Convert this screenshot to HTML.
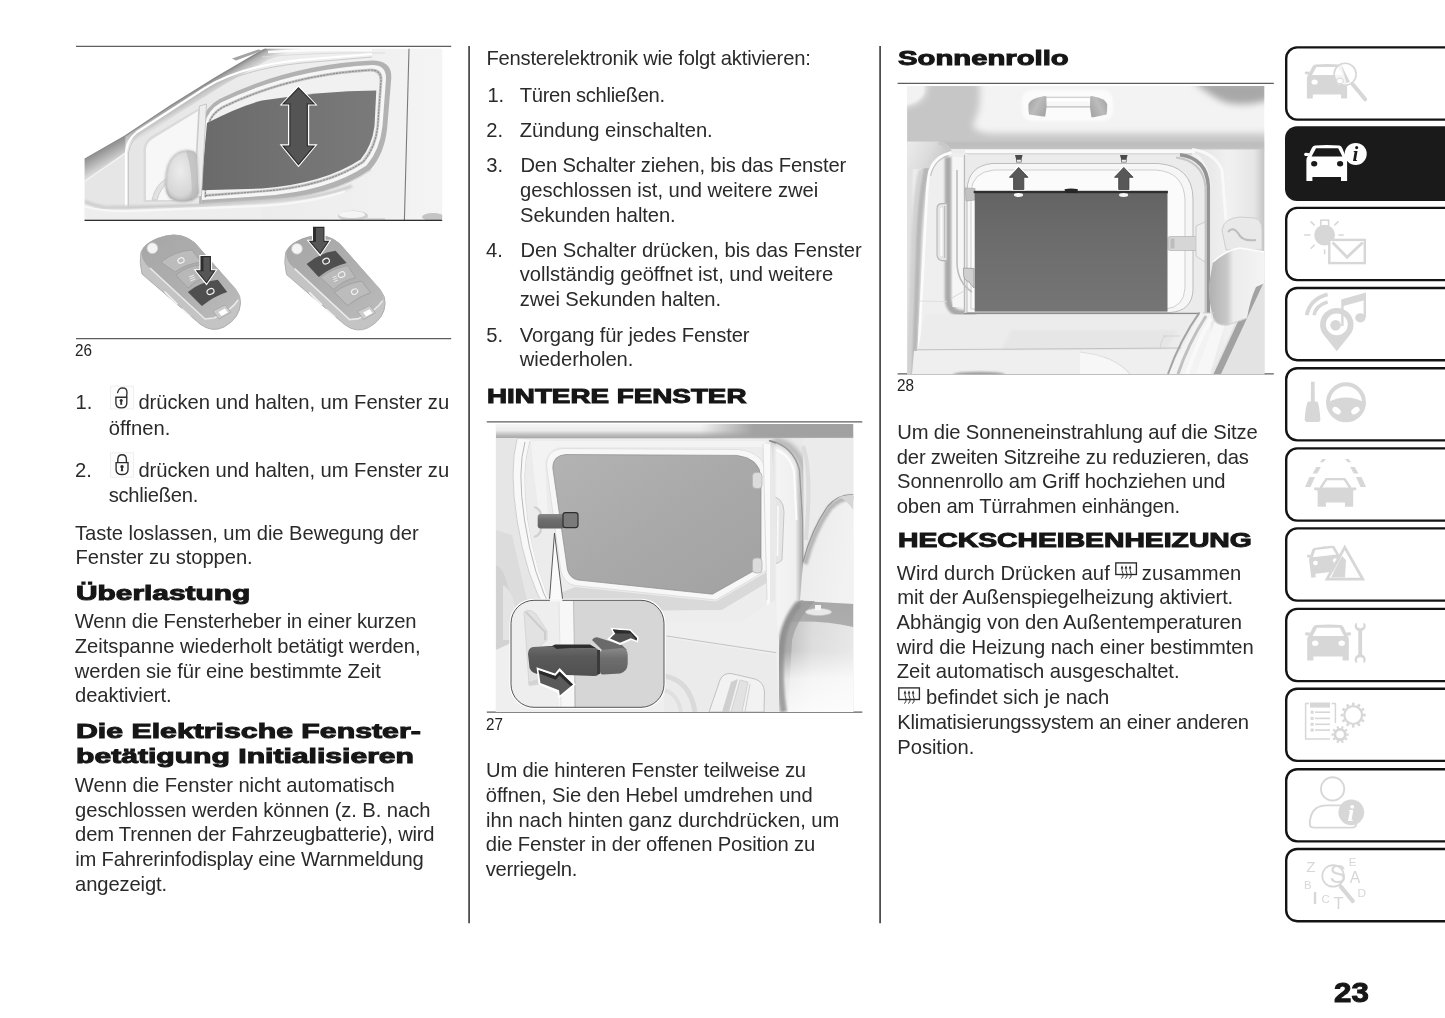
<!DOCTYPE html>
<html lang="de"><head><meta charset="utf-8"><title>Seite 23</title>
<style>
html,body{margin:0;padding:0;background:#fff;}
body{width:1445px;height:1018px;overflow:hidden;font-family:"Liberation Sans",sans-serif;}
#page{filter:grayscale(1);position:relative;width:1445px;height:1018px;background:#fff;overflow:hidden;}
.t{position:absolute;white-space:pre;line-height:1;margin:0;padding:0;}
.b{color:#2a2a2a;line-height:normal;font-size:20.2px;}
.c{color:#222;font-size:16.5px;line-height:normal;transform-origin:left center;}
.h{color:#161616;font-weight:bold;line-height:normal;transform-origin:left center;-webkit-text-stroke:1px #161616;}
.fig{position:absolute;}

</style></head>
<body>
<div id="page">
<svg class="fig" style="left:0;top:0" width="1445" height="1018" viewBox="0 0 1445 1018">
<g stroke="#5e5e5e" stroke-width="1.25" fill="none">
  <path d="M76,46.4 H451.2"/>
  <path d="M76,338.5 H451.2"/>
  <path d="M486.8,421.8 H862.3"/>
  <path d="M486.8,712.1 H862.3"/>
  <path d="M897.6,83.3 H1273.8"/>
  <path d="M897.6,373.8 H1273.8"/>
</g>
<g stroke="#4e4e4e" stroke-width="1.8" fill="none">
  <path d="M469.1,46 V923.2"/>
  <path d="M880.1,46 V923.2"/>
</g>
</svg>

<svg class="fig" style="left:76px;top:47px" width="376" height="292" viewBox="76 47 376 292">
<defs>
  <clipPath id="c26"><rect x="84.5" y="48.6" width="357.7" height="171.7"/></clipPath>
  <linearGradient id="g26roof" x1="0" y1="0" x2="0.35" y2="1">
    <stop offset="0" stop-color="#8a8a8a"/><stop offset="0.45" stop-color="#cfcfcf"/><stop offset="1" stop-color="#ededed"/>
  </linearGradient>
  <linearGradient id="g26glass" x1="0" y1="0" x2="1" y2="0">
    <stop offset="0" stop-color="#6a6a6a"/><stop offset="0.6" stop-color="#747474"/><stop offset="1" stop-color="#7a7a7a"/>
  </linearGradient>
  <linearGradient id="g26body" x1="0" y1="0" x2="1" y2="0">
    <stop offset="0" stop-color="#e3e3e3"/><stop offset="0.5" stop-color="#ececec"/><stop offset="1" stop-color="#f3f3f3"/>
  </linearGradient>
  <radialGradient id="g26mir" cx="0.45" cy="0.4" r="0.7">
    <stop offset="0" stop-color="#ececec"/><stop offset="0.7" stop-color="#d6d6d6"/><stop offset="1" stop-color="#a8a8a8"/>
  </radialGradient>
  <linearGradient id="g26key" x1="0" y1="0" x2="1" y2="1">
    <stop offset="0" stop-color="#a6a6a6"/><stop offset="0.6" stop-color="#b0b0b0"/><stop offset="1" stop-color="#bcbcbc"/>
  </linearGradient>
  <linearGradient id="g26roofp" gradientUnits="userSpaceOnUse" x1="170" y1="105" x2="178.2" y2="118.8">
    <stop offset="0" stop-color="#8e8e8e"/><stop offset="0.25" stop-color="#b4b4b4"/><stop offset="0.7" stop-color="#dcdcdc"/><stop offset="1" stop-color="#ececec"/>
  </linearGradient>
  <linearGradient id="g26fend" gradientUnits="userSpaceOnUse" x1="100" y1="150" x2="109" y2="166">
    <stop offset="0" stop-color="#8e8e8e"/><stop offset="0.5" stop-color="#b5b5b5"/><stop offset="1" stop-color="#dedede"/>
  </linearGradient>
  <filter id="b1" x="-20%" y="-20%" width="140%" height="140%"><feGaussianBlur stdDeviation="0.8"/></filter>
  <filter id="b2" x="-20%" y="-20%" width="140%" height="140%"><feGaussianBlur stdDeviation="2"/></filter>
  <filter id="b4" x="-30%" y="-30%" width="160%" height="160%"><feGaussianBlur stdDeviation="4"/></filter>
</defs>
<g clip-path="url(#c26)">
  <!-- sky -->
  <rect x="84" y="48" width="360" height="173" fill="#fff"/>
  <!-- car body below roof diagonal -->
  <path d="M84.5,159.4 L125.4,135.8 L170.8,105.5 L216.2,77.2 L261.6,50.8 L266,48.6 L442.2,48.6 L442.2,220.3 L84.5,220.3 Z" fill="url(#g26body)"/>
  <!-- roof/A-pillar shaded band (gradient perpendicular to roof line) -->
  <path d="M84.5,159.4 L125.4,135.8 L170.8,105.5 L216.2,77.2 L261.6,50.8 L266,48.6 L300,48.6 L268,60 L222,86 L176,115 L131,146 L84.5,178 Z" fill="url(#g26roofp)"/>
  <path d="M84.5,159.4 L125.4,135.8 L170.8,105.5 L216.2,77.2 L261.6,50.8 L266,48.6" fill="none" stroke="#8a8a8a" stroke-width="1.3"/>
  <!-- roof rail detail -->
  <path d="M232,58.5 L258,49.5 L263,50.3 L236,60.5Z" fill="#a4a4a4"/>
  <path d="M268,52 Q320,49 372,50" fill="none" stroke="#fbfbfb" stroke-width="2.5"/>
  <path d="M262,57 Q320,52 385,53" fill="none" stroke="#dcdcdc" stroke-width="1"/>
  <!-- fender lower-left -->
  <path d="M84.5,178 L125,151 L126,206 L84.5,203 Z" fill="#e6e6e6"/>
  <path d="M84.5,159.4 L125.4,135.8 L125.4,152 L84.5,181 Z" fill="url(#g26fend)"/>
  <path d="M84.5,181.5 L125,153.5" fill="none" stroke="#f4f4f4" stroke-width="1.2"/>
  <!-- door frame lines -->
  <path d="M126,207 L126,152 Q127,140 137,132 L205,88 Q240,66 300,60 L372,54" fill="none" stroke="#fff" stroke-width="2.2"/>
  <path d="M128.5,207 L128.5,153 Q130,142 139,134.5 L207,91 Q242,69 302,63 L372,57" fill="none" stroke="#c9c9c9" stroke-width="1"/>
  <!-- window frame outer shadow -->
  <path d="M199,206.5 L202,122.5 Q205,107 219.5,99 Q290,64.5 372,60.6 Q392,60.6 391.3,78 L387.2,127.5 Q384.8,153 370.5,169.5 Q331,197 262,201 Z" fill="#b2b2b2"/>
  <path d="M201.5,203 L205,123 Q208,110 221,102.5 Q290,69.5 372,65 Q386.5,65 386,79 L382.5,126 Q380,150 366.5,165.5 Q328,191.5 262,196 L202,200 Z" fill="#f6f6f6"/>
  <path d="M204,199 L207.5,124 Q210,113 222,106 Q290,73 371,68.5 Q383,68.5 382.5,80 L379,126 Q377,148 364,163 Q326,188 262,192.5 L204,197 Z" fill="#c4c4c4"/>
  <path d="M205.4,197.4 L208.8,124.3 Q211.2,114.2 222.6,107.4 Q290,74.6 370.8,70 Q381.4,70 381,80.4 L377.7,126 Q375.6,147.4 363,162 Q325.6,186.6 262,191.3 L205.4,195.6" fill="none" stroke="#8a8a8a" stroke-width="1.1" stroke-dasharray="2.2 1"/>
  <!-- clear open band (window lowered) -->
  <path d="M206,196 L209.5,124.5 Q212,115 223,108.5 Q290,76 370.5,71.5 Q380,71.5 379.5,81 L376.5,126 Q374,146.5 362,161 Q325,185 262,190 L206,194 Z" fill="#f1f1f1"/>
  <!-- dark glass -->
  <path d="M200.8,190.3 L207,123 Q240,106 262,100.5 Q320,91 376.3,90.4 L374.5,126 Q372,146 360.5,159.5 Q324,183.5 262,188.5 Z" fill="url(#g26glass)"/>
  <!-- quarter window -->
  <path d="M143.5,202 L143.5,148 Q145,140 152,136 L200,107.5 L196.5,164 L193,201.5 Z" fill="#dadada"/>
  <path d="M146,200 L146,148.5 Q147,142 153.5,138.2 L198,111 L195,164 L191.5,200 Z" fill="#f7f7f7"/>
  <!-- divider pillar -->
  <path d="M199.5,106 L206.5,104 L201.5,196 L194.5,198 Z" fill="#ededed" stroke="#bfbfbf" stroke-width="0.8"/>
  <!-- mirror stalk -->
  <path d="M152,200 Q155,185 167,178 L170,181 Q160,188 157,200 Z" fill="#e2e2e2" stroke="#c8c8c8" stroke-width="0.8"/>
  <!-- mirror -->
  <path d="M165.6,186 Q164.5,160 178,152.5 Q186,149 193.5,151.5 Q196.5,153 197,160 L198.5,193 Q197,200 186,201.3 Q176,202 170,198 Q166,194 165.6,186 Z" fill="url(#g26mir)"/>
  <path d="M165.6,186 Q164.5,160 178,152.5 Q186,149 193.5,151.5 Q196.5,153 197,160 L198.5,193 Q197,200 186,201.3 Q176,202 170,198 Q166,194 165.6,186 Z" fill="none" stroke="#9d9d9d" stroke-width="0.9" filter="url(#b1)"/>
  <path d="M186,150.6 Q193,172 191.6,200.4 Q197,199 198.4,193 L197,160 Q196.5,153 193.5,151.5 Q190,150.2 186,150.6 Z" fill="#bdbdbd" opacity="0.75"/>
  <!-- sill / lower body -->
  <path d="M84.5,204 L126,208 L200,205 L262,201.5 L262,220.3 L84.5,220.3 Z" fill="#eeeeee"/>
  <path d="M126,207.8 L200,204.6 L262,200.6 Q332,197 371,170" fill="none" stroke="#cfcfcf" stroke-width="1"/>
  <path d="M84.5,201.4 Q96,206.4 106,207.8 L200,205.4 L262,201.6 Q320,198.6 352,186" fill="none" stroke="#cdcdcd" stroke-width="3.4" filter="url(#b1)"/>
  <path d="M84.5,206.5 Q100,211.2 126,211.2 L262,205.8 Q310,203 345,191.4" fill="none" stroke="#f7f7f7" stroke-width="2.2"/>
  <!-- door seam right -->
  <path d="M409,48.6 L404.4,220.3" stroke="#7a7a7a" stroke-width="1.1" fill="none"/>
  <rect x="410" y="48.6" width="33" height="172" fill="#f4f4f4" opacity="0.7"/>
  <!-- handles -->
  <ellipse cx="353" cy="216" rx="15" ry="5.5" fill="#d0d0d0"/>
  <ellipse cx="352" cy="214.5" rx="13" ry="3.6" fill="#f5f5f5"/>
  <path d="M366,218 L385,218 L385,220.3 L366,220.3Z" fill="#d9d9d9"/>
  <ellipse cx="433" cy="217" rx="11" ry="4" fill="#c4c4c4"/>
  <!-- double arrow -->
  <path d="M298.5,85.2 L317.6,105.6 L309.2,105.6 L309.2,144.2 L317.6,144.2 L298.5,167.3 L279.6,144.2 L288,144.2 L288,105.6 L279.6,105.6 Z" fill="#fff"/>
  <path d="M298.5,87.8 L314,103.8 L307.3,103.8 L307.3,146 L314,146 L298.5,164.6 L283.2,146 L289.9,146 L289.9,103.8 L283.2,103.8 Z" fill="#545454" stroke="#2c2c2c" stroke-width="1.2"/>
</g>
<!-- baseline under car -->
<rect x="84.5" y="219.7" width="357.7" height="1.3" fill="#2e2e2e"/>

<!-- ===== key 1 ===== -->
<g>
  <path d="M141,252 Q139,262 142,274 L200,324 Q212,333 224,327 Q240,318 240.5,303 Q241,296 236,290 L195,243 Q182,232 166,236 Q146,241 141,252 Z" fill="#c4c4c4" stroke="#b0b0b0" stroke-width="1"/>
  <path d="M142,250 Q147,240 166,235.5 Q182,232 195,243 L236,289 Q240,295 238,300 Q232,310 214,318 L205,319 L150,268 Q140,260 142,250 Z" fill="url(#g26key)"/>
  <path d="M150,268 L205,319 L214,318 Q232,310 238,300" fill="none" stroke="#e9e9e9" stroke-width="1.6"/>
  <circle cx="152.4" cy="248.2" r="5.4" fill="#f4f4f4" stroke="#c9c9c9" stroke-width="0.8"/>
  <!-- upper button -->
  <path d="M161,262 Q175,251 192,250 L201,262 Q186,264 175,272 Z" fill="#bcbcbc" stroke="#9a9a9a" stroke-width="0.7"/>
  <!-- mid button -->
  <path d="M176,275 Q187,266 202,264.5 L210,276 Q197,279 188,288 Z" fill="#b8b8b8" stroke="#9a9a9a" stroke-width="0.7"/>
  <!-- pressed button -->
  <path d="M187.9,291.9 Q200,282 217.8,279.8 L227.2,291.9 Q214,296 201.9,306 Z" fill="#4f4f4f"/>
  <!-- key ring -->
  <path d="M213,311 L225,305 L231,312 L219,319 Z" fill="#cdcdcd" stroke="#a5a5a5" stroke-width="0.8"/>
  <path d="M218.5,312 L225,308.6 L228,312.4 L221.5,316 Z" fill="#fff"/>
  <!-- icons -->
  <ellipse cx="181" cy="260.5" rx="3.2" ry="2.6" fill="none" stroke="#f2f2f2" stroke-width="1.1" transform="rotate(-25 181 260.5)"/>
  <ellipse cx="210.5" cy="291.5" rx="3.6" ry="2.8" fill="none" stroke="#f2f2f2" stroke-width="1.2" transform="rotate(-25 210.5 291.5)"/>
  <path d="M189,277 l5,-2 M189.6,279 l5,-2 M190.4,281 l5,-2" stroke="#f0f0f0" stroke-width="0.9"/>
  <path d="M165,292 L177,304 M182,309 L190,316" stroke="#f3f3f3" stroke-width="1.6" stroke-linecap="round"/>
  <!-- arrow -->
  <path d="M199.4,255 L212,255 L212,269.2 L217.6,269.2 L206.6,285.4 L193.6,269.2 L199.4,269.2 Z" fill="#fff"/>
  <path d="M201,256.6 L210.4,256.6 L210.4,270.8 L214.6,270.8 L206.6,282.6 L196.8,270.8 L201,270.8 Z" fill="#565656" stroke="#2c2c2c" stroke-width="1.1"/>
  <path d="M201,256.6 L203.4,256.6 L203.4,271.4 L201,270.8 Z" fill="#2c2c2c"/>
</g>
<!-- ===== key 2 ===== -->
<g transform="translate(144.6,0.6)">
  <path d="M141,252 Q139,262 142,274 L200,324 Q212,333 224,327 Q240,318 240.5,303 Q241,296 236,290 L195,243 Q182,232 166,236 Q146,241 141,252 Z" fill="#c4c4c4" stroke="#b0b0b0" stroke-width="1"/>
  <path d="M142,250 Q147,240 166,235.5 Q182,232 195,243 L236,289 Q240,295 238,300 Q232,310 214,318 L205,319 L150,268 Q140,260 142,250 Z" fill="url(#g26key)"/>
  <path d="M150,268 L205,319 L214,318 Q232,310 238,300" fill="none" stroke="#e9e9e9" stroke-width="1.6"/>
  <circle cx="152.4" cy="248.2" r="5.4" fill="#f4f4f4" stroke="#c9c9c9" stroke-width="0.8"/>
  <!-- pressed upper button -->
  <path d="M162,263.3 Q176,252 190.9,250.2 L202.1,262.4 Q187,266 174.1,276.4 Z" fill="#4f4f4f"/>
  <path d="M176,277 Q187,268 203,265 L211,277 Q198,280 189,289 Z" fill="#bababa" stroke="#9a9a9a" stroke-width="0.7"/>
  <path d="M190,292 Q201,283 217,280.5 L226,292 Q214,296 203,305 Z" fill="#bcbcbc" stroke="#9a9a9a" stroke-width="0.7"/>
  <path d="M213,311 L225,305 L231,312 L219,319 Z" fill="#cdcdcd" stroke="#a5a5a5" stroke-width="0.8"/>
  <path d="M218.5,312 L225,308.6 L228,312.4 L221.5,316 Z" fill="#fff"/>
  <ellipse cx="181.5" cy="260.5" rx="3.4" ry="2.7" fill="none" stroke="#f2f2f2" stroke-width="1.2" transform="rotate(-25 181.5 260.5)"/>
  <ellipse cx="197" cy="274" rx="3.4" ry="2.7" fill="none" stroke="#f2f2f2" stroke-width="1.1" transform="rotate(-25 197 274)"/>
  <path d="M188,277 l4,-1.6 M188.6,279 l4,-1.6 M189.4,281 l4,-1.6" stroke="#f0f0f0" stroke-width="0.9"/>
  <ellipse cx="210" cy="291" rx="3.2" ry="2.6" fill="none" stroke="#f2f2f2" stroke-width="1.1" transform="rotate(-25 210 291)"/>
  <path d="M165,292 L177,304 M182,309 L190,316" stroke="#f3f3f3" stroke-width="1.6" stroke-linecap="round"/>
</g>
<g>
  <path d="M312,225.8 L325.5,225.8 L325.5,239.8 L331.4,239.8 L320.2,256.4 L306.6,239.8 L312,239.8 Z" fill="#fff"/>
  <path d="M313.6,227.4 L323.9,227.4 L323.9,241.4 L328.4,241.4 L320.2,253.6 L309.8,241.4 L313.6,241.4 Z" fill="#565656" stroke="#2c2c2c" stroke-width="1.1"/>
  <path d="M313.6,227.4 L316,227.4 L316,242 L313.6,241.4 Z" fill="#2c2c2c"/>
</g>
</svg>

<svg class="fig" style="left:487px;top:422px" width="376" height="291" viewBox="487 422 376 291">
<defs>
  <clipPath id="c27"><rect x="495.8" y="423.9" width="357.6" height="288.2"/></clipPath>
  <linearGradient id="g27top" x1="0" y1="0" x2="0" y2="1">
    <stop offset="0" stop-color="#f6f6f6"/><stop offset="0.45" stop-color="#ebebeb"/><stop offset="0.8" stop-color="#b9b9b9"/><stop offset="1" stop-color="#a6a6a6"/>
  </linearGradient>
  <linearGradient id="g27topr" x1="0" y1="0" x2="1" y2="0">
    <stop offset="0" stop-color="#a2a2a2" stop-opacity="0"/><stop offset="0.35" stop-color="#a2a2a2" stop-opacity="1"/><stop offset="1" stop-color="#a0a0a0"/>
  </linearGradient>
  <linearGradient id="g27glass" x1="0" y1="0" x2="1" y2="1">
    <stop offset="0" stop-color="#b3b3b3"/><stop offset="0.5" stop-color="#a9a9a9"/><stop offset="1" stop-color="#a2a2a2"/>
  </linearGradient>
  <linearGradient id="g27seat" x1="0" y1="0" x2="1" y2="0">
    <stop offset="0" stop-color="#8a8a8a"/><stop offset="0.12" stop-color="#bdbdbd"/><stop offset="0.45" stop-color="#dadada"/><stop offset="1" stop-color="#e6e6e6"/>
  </linearGradient>
  <linearGradient id="g27seatv" x1="0" y1="0" x2="0" y2="1">
    <stop offset="0" stop-color="#fff" stop-opacity="0"/><stop offset="0.45" stop-color="#fff" stop-opacity="0.1"/><stop offset="0.7" stop-color="#fff" stop-opacity="0.75"/><stop offset="1" stop-color="#fff" stop-opacity="0.9"/>
  </linearGradient>
  <linearGradient id="g27pil" x1="0" y1="0" x2="1" y2="0">
    <stop offset="0" stop-color="#d8d8d8"/><stop offset="0.2" stop-color="#f4f4f4"/><stop offset="0.8" stop-color="#efefef"/><stop offset="1" stop-color="#b4b4b4"/>
  </linearGradient>
  <linearGradient id="g27hr" x1="0" y1="0" x2="1" y2="0.4">
    <stop offset="0" stop-color="#d0d0d0"/><stop offset="0.3" stop-color="#ececec"/><stop offset="1" stop-color="#f2f2f2"/>
  </linearGradient>
  <linearGradient id="g27hnd" x1="0" y1="0" x2="0" y2="1">
    <stop offset="0" stop-color="#6c6c6c"/><stop offset="0.35" stop-color="#5a5a5a"/><stop offset="1" stop-color="#505050"/>
  </linearGradient>
  <linearGradient id="g27hnd2" x1="0" y1="0" x2="0" y2="1">
    <stop offset="0" stop-color="#8a8a8a"/><stop offset="0.4" stop-color="#6e6e6e"/><stop offset="1" stop-color="#626262"/>
  </linearGradient>
  <filter id="f27a" x="-30%" y="-30%" width="160%" height="160%"><feGaussianBlur stdDeviation="1.2"/></filter>
  <filter id="f27b" x="-30%" y="-30%" width="160%" height="160%"><feGaussianBlur stdDeviation="2.5"/></filter>
  <clipPath id="c27in"><rect x="511" y="600.3" width="153" height="107" rx="23" ry="23"/></clipPath>
</defs>
<g clip-path="url(#c27)">
  <rect x="495" y="423" width="360" height="290" fill="#ededed"/>
  <!-- top header band -->
  <rect x="495.8" y="423.9" width="357.6" height="14.4" fill="url(#g27top)"/>
  <rect x="700" y="423.9" width="153.4" height="13" fill="url(#g27topr)"/>
  <!-- left area: seat/seatbelt zone -->
  <path d="M495.8,438 L517,438 Q511,470 519,520 Q527,575 545,612 L495.8,612 Z" fill="#e6e6e6"/>
  <path d="M495.8,530 L512,535 L527,600 L540,650 L495.8,650 Z" fill="#dcdcdc"/>
  <path d="M495.8,565 Q507,570 510,600 L510,712 L495.8,712 Z" fill="#d2d2d2"/>
  <path d="M503,585 Q512,590 516,610 L510,640 L503,640 Z" fill="#e4e4e4"/>
  <!-- left seal (white band with gray lines) -->
  <path d="M517,439 Q509,470 517,520 Q526,578 547,612 L556,612 Q536,576 527.5,520 Q520,468 531,440 Z" fill="#f8f8f8"/>
  <path d="M517,439 Q509,470 517,520 Q526,578 547,612" fill="none" stroke="#cfcfcf" stroke-width="1"/>
  <path d="M525,442 Q517,470 524.5,520 Q533,577 553,612" fill="none" stroke="#b8b8b8" stroke-width="1"/>
  <path d="M530,441 Q521,470 528,520 Q536.5,576 556,612" fill="none" stroke="#d2d2d2" stroke-width="0.9"/>
  <!-- panel between seal and window -->
  <path d="M531,440 L770,440 L770,612 L556,612 Q536,576 528,520 Q521,468 531,440 Z" fill="#ececec"/>
  <!-- frame upper highlight -->
  <path d="M531,441 L765,441 L765,447 L560,447 Q548,449 545,462 L548,520 L540,520 Q533,470 531,441 Z" fill="#f3f3f3"/>
  <!-- window frame (white) -->
  <path d="M562,448.5 L738,449.5 Q766,452 767,478 L767,570 L716,600 L575,585.5 Q565,584 561,572 L546.5,466 Q546,450 562,448.5 Z" fill="#f7f7f7" stroke="#dadada" stroke-width="0.8"/>
  <!-- glass -->
  <path d="M566,454.5 L737,455.4 Q760,458 761,478 L761,566.8 L712.4,594.2 L578,580 Q570,578.5 567.5,570 L552.8,468 Q552.5,455.5 566,454.5 Z" fill="url(#g27glass)"/>
  <path d="M566,454.5 L737,455.4 Q760,458 761,478 L761,566.8 L712.4,594.2 L578,580 Q570,578.5 567.5,570 L552.8,468 Q552.5,455.5 566,454.5 Z" fill="none" stroke="#8e8e8e" stroke-width="0.7"/>
  <!-- band below glass -->
  <path d="M548,598 L575,587 L716,601.5 L767,572 L775,578 L722,610 L556,612 Z" fill="#d9d9d9"/>
  <path d="M556,612 L722,610 L775,578 L775,600 L740,622 L560,622 Z" fill="#ededed"/>
  <!-- hinges -->
  <rect x="752.5" y="472.5" width="9.5" height="16" rx="3.5" fill="#dcdcdc" stroke="#b4b4b4" stroke-width="0.8"/>
  <rect x="752.5" y="558" width="9.5" height="15" rx="3.5" fill="#dcdcdc" stroke="#b4b4b4" stroke-width="0.8"/>
  <!-- vertical white pillar right of glass -->
  <path d="M763,444 L774.5,444 L773,712 L760,712 L767,600 Z" fill="#f9f9f9"/>
  <path d="M763,444 L767,600" stroke="#d6d6d6" stroke-width="0.8" fill="none"/>
  <!-- C-pillar trim -->
  <path d="M770,438.3 L853.4,438.3 L853.4,712 L770,712 Z" fill="#e9e9e9"/>
  <path d="M771,441 Q792,446 798.5,470 L801.5,520 L801.5,600 L797,712 L772,712 L775.5,560 L775.5,500 Z" fill="url(#g27pil)"/>
  <path d="M773,440 Q797,444 804,470 L807,520 L806.5,600" fill="none" stroke="#a2a2a2" stroke-width="6" filter="url(#f27b)" opacity="0.8"/>
  <path d="M771,441 Q793,446 799.5,470 L802.5,520 L802.5,600 L798,712" fill="none" stroke="#9c9c9c" stroke-width="1.6"/>
  <path d="M769,440.5 L776,443" stroke="#8c8c8c" stroke-width="1.6"/>
  <path d="M776.5,450 Q790,455 794,472 L796.5,520" fill="none" stroke="#fcfcfc" stroke-width="2"/>
  <path d="M775.5,497 L780,500 Q784,504 784,512 L782,560 L778,563 L776,563" fill="#e6e6e6" stroke="#c2c2c2" stroke-width="0.9"/>
  <path d="M778,506 L777.5,556" stroke="#fafafa" stroke-width="1.6"/>
  <!-- wall gradient right of trim -->
  <path d="M803,438.3 L853.4,438.3 L853.4,495 Q838,494 828,506 Q812,530 804,560 Z" fill="#ebebeb"/>
  <path d="M803,446 Q812,470 806,540" fill="none" stroke="#d2d2d2" stroke-width="4" opacity="0.6"/>
  <!-- headrest -->
  <path d="M803,562 Q812,528 828,506 Q838,494 853.4,494.5 L853.4,605 L800,600 Z" fill="url(#g27hr)"/>
  <path d="M805,564 Q814,530 830,508 Q840,497 855,497.5" fill="none" stroke="#a4a4a4" stroke-width="5" filter="url(#f27a)" opacity="0.75"/>
  <path d="M803,562 Q812,528 828,506 Q838,494 853.4,494.5" fill="none" stroke="#969696" stroke-width="1.2"/>
  <path d="M838,497 Q846,499 853.4,510 L853.4,494.5 Z" fill="#d6d6d6"/>
  <!-- seat back -->
  <path d="M799,601 L853.4,604 L853.4,712 L784,712 Q778,680 779.5,650 Q781,620 799,601 Z" fill="url(#g27seat)"/>
  <path d="M799,601 L853.4,604 L853.4,627 Q820,620 790,622 Z" fill="#a9a9a9"/>
  <path d="M782,640 Q784,620 799,601 L815,601 Q796,620 792,640 L788,712 L784,712 Q778,680 782,640 Z" fill="#9a9a9a" opacity="0.75"/>
  <path d="M799,601 L853.4,604 L853.4,712 L784,712 Q778,680 779.5,650 Q781,620 799,601 Z" fill="url(#g27seatv)"/>
  <path d="M783.5,712 Q778.5,680 781,648 Q783,622 799,603" fill="none" stroke="#8e8e8e" stroke-width="7" filter="url(#f27a)" opacity="0.8"/>
  <ellipse cx="818.5" cy="612" rx="13" ry="3.6" fill="#e9e9e9" stroke="#c6c6c6" stroke-width="0.7"/>
  <rect x="815" y="605" width="6" height="5" fill="#f6f6f6"/>
  <!-- door lower panel -->
  <path d="M556,622 L740,622 L775,600 L779,640 L779,712 L495.8,712 L495.8,650 Z" fill="#efefef"/>
  <path d="M666.5,636 L776.3,652.7" stroke="#bdbdbd" stroke-width="0.9" fill="none"/>
  <path d="M666,638 L776,655 L779,712 L664,712 Z" fill="#ebebeb"/>
  <!-- speaker arcs -->
  <path d="M664,676 Q690,680 695,712" fill="none" stroke="#dadada" stroke-width="5"/>
  <path d="M664,690 Q678,694 681,712" fill="none" stroke="#e0e0e0" stroke-width="4"/>
  <!-- door pull -->
  <path d="M709,712 L720,680 Q723,673 731,673.5 L755,679 Q764,682 764.5,692 L764,712 Z" fill="#f2f2f2" stroke="#bcbcbc" stroke-width="0.9"/>
  <path d="M722,712 L731,682 L738,679 L729,712 Z" fill="#cfcfcf"/>
  <path d="M731,712 L740,680 L748,682 L742,712 Z" fill="#e2e2e2" stroke="#c8c8c8" stroke-width="0.7"/>
  <path d="M745,712 L750,684" stroke="#cfcfcf" stroke-width="1"/>
  <!-- window handle -->
  <path d="M534,507 Q541,509 541,516 L541,528 Q541,535 534,537" fill="none" stroke="#d0d0d0" stroke-width="2.2"/>
  <rect x="537.7" y="514" width="27" height="14.4" rx="3" fill="url(#g27hnd2)"/>
  <rect x="563" y="512.6" width="15" height="15" rx="2.5" fill="#7a7a7a" stroke="#2e2e2e" stroke-width="1.2"/>
  <!-- leader lines -->
  <path d="M554.5,533 L549.4,601 L562.8,601 Z" fill="#fafafa"/>
  <path d="M554.5,533 L549.4,601 M554.5,533 L562.8,601" stroke="#4a4a4a" stroke-width="0.9" fill="none"/>
  <!-- ===== inset ===== -->
  <rect x="509.4" y="598.7" width="156.2" height="110.2" rx="24.5" ry="24.5" fill="#fff"/>
  <g clip-path="url(#c27in)">
    <rect x="511" y="600" width="153" height="108" fill="#eeeeee"/>
    <rect x="574" y="600" width="92" height="108" fill="#d6d6d6"/>
    <rect x="559" y="600" width="15" height="108" fill="#f7f7f7"/>
    <path d="M573.5,600 L575.5,708" stroke="#bdbdbd" stroke-width="1"/>
    <path d="M559,600 L561,708" stroke="#dcdcdc" stroke-width="0.8"/>
    <path d="M524,612 Q530,608 536,614 L547,631 L547,640 L541,645 L541,680 L529,684 L526,640 Z" fill="#e2e2e2" stroke="#d0d0d0" stroke-width="0.8"/>
    <path d="M526,612 L545,632 L545,640" fill="none" stroke="#cdcdcd" stroke-width="2"/>
    <path d="M528,682 L542,678 L543,684 L529,686Z" fill="#d4d4d4"/>
    <!-- handle -->
    <path d="M592,640 Q594,636.5 598,637.5 L622,645 L627,650 L602,650 Z" fill="#6a6a6a"/>
    <path d="M533,647 L553,646 L556,649 L596,648 L600,651 L600,672 Q599,676 594,676 L540,674 Q532,674 529.5,668 L528,654 Q528,648 533,647 Z" fill="url(#g27hnd)"/>
    <path d="M540,646.5 L552,646 L555,644.5 L590,644.5 L596,648 L556,649 L553,646.6 Z" fill="#2e2e2e"/>
    <path d="M602,650 L622,648 Q627.7,648.5 627.7,655 L627.7,664 Q627,672 620,673.5 L603,674.5 Q600,674.5 600,671 L600,652 Z" fill="url(#g27hnd2)"/>
    <path d="M597,650 L600,650 L600,674 L597,674 Z" fill="#3a3a3a"/>
    <!-- arrow upper right -->
    <path d="M610.5,627.8 L630.6,629.2 L638.8,637.6 L638,642.6 L631,640 L620,645 L607,639.2 L613,633.5 Z" fill="#fff"/>
    <path d="M612.8,629.6 L629.8,630.8 L637,638.2 L636.5,640.4 L630.8,638.2 L620,642.8 L610,638.6 L615.3,633.6 Z" fill="#505050"/>
    <path d="M612.8,629.6 L629.8,630.8 L637,638.2 L636.5,640.4 L631,633.5 L615.3,633.6 Z" fill="#2b2b2b"/>
    <!-- arrow lower left -->
    <path d="M536.5,667.3 L555,673.6 L559.6,668 L575.6,684.6 L558.6,698.6 L557.6,692.4 L538.6,684.6 Z" fill="#fff"/>
    <path d="M538.6,670.2 L555.4,676 L559.6,671.6 L573,684.6 L559.8,695.4 L559,690.2 L540.4,683 Z" fill="#5a5a5a"/>
    <path d="M538.6,670.2 L555.4,676 L559.6,671.6 L573,684.6 L570.6,686 L559.4,675.6 L555.8,679.8 L539,673.6 Z" fill="#2b2b2b"/>
  </g>
  <rect x="511" y="600.3" width="153" height="107" rx="23" ry="23" fill="none" stroke="#555" stroke-width="1"/>
  <!-- reopen leader gap -->
  <path d="M549.9,599 L562.3,599 L562.4,601.5 L549.8,601.5 Z" fill="#f6f6f6"/>
</g>
</svg>

<svg class="fig" style="left:898px;top:84px" width="376" height="291" viewBox="898 84 376 291">
<defs>
  <clipPath id="c28"><rect x="907.1" y="85.9" width="357.2" height="288.3"/></clipPath>
  <filter id="f28a" x="-30%" y="-30%" width="160%" height="160%"><feGaussianBlur stdDeviation="3.5"/></filter>
  <filter id="f28b" x="-30%" y="-30%" width="160%" height="160%"><feGaussianBlur stdDeviation="1.2"/></filter>
  <filter id="f28c" x="-30%" y="-30%" width="160%" height="160%"><feGaussianBlur stdDeviation="6"/></filter>
  <linearGradient id="g28band" x1="0" y1="0" x2="0" y2="1">
    <stop offset="0" stop-color="#f2f2f2"/><stop offset="0.35" stop-color="#cfcfcf"/><stop offset="1" stop-color="#b6b6b6"/>
  </linearGradient>
  <linearGradient id="g28blind" x1="0" y1="0" x2="0" y2="1">
    <stop offset="0" stop-color="#646464"/><stop offset="0.5" stop-color="#6e6e6e"/><stop offset="1" stop-color="#757575"/>
  </linearGradient>
  <linearGradient id="g28lp" x1="0" y1="0" x2="1" y2="0">
    <stop offset="0" stop-color="#dedede"/><stop offset="0.35" stop-color="#f3f3f3"/><stop offset="0.75" stop-color="#ededed"/><stop offset="1" stop-color="#b0b0b0"/>
  </linearGradient>
  <linearGradient id="g28rp" x1="0" y1="0" x2="1" y2="0">
    <stop offset="0" stop-color="#e2e2e2"/><stop offset="0.5" stop-color="#f1f1f1"/><stop offset="0.85" stop-color="#e6e6e6"/><stop offset="1" stop-color="#c2c2c2"/>
  </linearGradient>
  <linearGradient id="g28hr" x1="0" y1="0" x2="1" y2="0">
    <stop offset="0" stop-color="#b0b0b0"/><stop offset="0.32" stop-color="#c8c8c8"/><stop offset="0.44" stop-color="#ececec"/><stop offset="1" stop-color="#f4f4f4"/>
  </linearGradient>
  <linearGradient id="g28hb" x1="0" y1="0" x2="1" y2="0.6">
    <stop offset="0" stop-color="#9e9e9e"/><stop offset="0.55" stop-color="#bcbcbc"/><stop offset="1" stop-color="#a8a8a8"/>
  </linearGradient>
  <linearGradient id="g28hb2" x1="1" y1="0" x2="0" y2="0.6">
    <stop offset="0" stop-color="#9e9e9e"/><stop offset="0.55" stop-color="#bcbcbc"/><stop offset="1" stop-color="#a8a8a8"/>
  </linearGradient>
  <linearGradient id="g28cap" x1="0" y1="0" x2="1" y2="0.3">
    <stop offset="0" stop-color="#ececec"/><stop offset="0.55" stop-color="#dcdcdc"/><stop offset="1" stop-color="#c6c6c6"/>
  </linearGradient>
  <linearGradient id="g28le" x1="0" y1="0" x2="1" y2="0">
    <stop offset="0" stop-color="#b0b0b0"/><stop offset="1" stop-color="#ececec"/>
  </linearGradient>
</defs>
<g clip-path="url(#c28)">
  <rect x="906" y="85" width="360" height="290" fill="#f3f3f3"/>
  <!-- headliner shading (soft L-shape + band) -->
  <path d="M926,80 L979,80 Q982,108 974,122 Q969,131 990,133.5 L1270,133.5 L1270,151 L900,151 L900,107 Q922,105 926,92 Z" fill="#c6c6c6" filter="url(#f28a)"/>
  <rect x="900" y="142" width="370" height="8" fill="#b8b8b8" filter="url(#f28b)" opacity="0.6"/>
  <path d="M900,80 L924,80 L924,92 Q920,104 900,106 Z" fill="#f2f2f2" filter="url(#f28b)"/>
  <!-- headliner shading upper-right -->
  <path d="M1192,80 L1270,80 L1270,100 Q1240,108 1222,101 Q1206,93 1192,80 Z" fill="#a8a8a8" filter="url(#f28a)"/>
  <!-- grab handle -->
  <rect x="1022" y="90" width="91" height="31" rx="10" fill="#fbfbfb" filter="url(#f28b)"/>
  <path d="M1046,96.6 L1090.4,96.6 L1090.4,107.4 L1046,107.4 Z" fill="#f7f7f7"/>
  <path d="M1046,97.2 L1090.4,97.2" stroke="#c9c9c9" stroke-width="1.1"/>
  <path d="M1046,106.9 L1090.4,106.9" stroke="#bdbdbd" stroke-width="1.3"/>
  <path d="M1046,100 L1090.4,100" stroke="#ffffff" stroke-width="3"/>
  <path d="M1028.4,104 Q1030,98.4 1044.6,96 L1046.4,96.4 L1046.6,107 L1045.2,116.4 L1043,116.6 L1029,114.6 Q1028.2,110 1028.4,104 Z" fill="url(#g28hb)"/>
  <path d="M1107.2,104 Q1105.6,98.4 1092,96 L1090.2,96.4 L1090,107.6 L1091.4,117.2 L1093.6,117.2 L1106.6,114.6 Q1107.4,110 1107.2,104 Z" fill="url(#g28hb2)"/>
  <!-- door aperture top white band -->
  <rect x="950" y="149.3" width="245" height="4" fill="#fafafa"/>
  <path d="M950,154 L1192,154" stroke="#c4c4c4" stroke-width="1"/>
  <!-- left pillar -->
  <rect x="907" y="149.5" width="58" height="225" fill="#ececec"/>
  <path d="M907,150 L913,150 L910,374 L907,374 Z" fill="#e2e2e2"/>
  <path d="M927,166 Q919,195 917,260 L913,376" fill="none" stroke="#b2b2b2" stroke-width="7.5" filter="url(#f28b)" opacity="0.9"/>
  <path d="M921,170 Q914,200 913,260 L909,376" fill="none" stroke="#d2d2d2" stroke-width="5" filter="url(#f28b)"/>
  <!-- cap -->
  <path d="M907,141.5 L938,141.5 Q949,142.5 951.6,151 L944,153.5 Q934,157 929,168 L907,170 Z" fill="url(#g28cap)"/>
  <path d="M940,142 Q949,143.5 951.6,151 L946,152.6 Q944,146 937,144 Z" fill="#c9c9c9"/>
  <!-- inner door panel between seal and aperture -->
  <path d="M952,152.6 Q936,157 930.5,171 Q928,181 927.4,200 L918.4,374 L968,374 L968,154.5 Z" fill="#efefef"/>
  <path d="M951.6,152.2 Q935,157 929.6,171 Q927.4,181 926.6,200 L917.4,374" fill="none" stroke="#fcfcfc" stroke-width="2.6"/>
  <path d="M948.4,155.5 Q934,160 930.6,176" fill="none" stroke="#b8b8b8" stroke-width="1.2" opacity="0.8"/>
  <!-- vertical shadow band and corner -->
  <path d="M948,157 L948,297 Q948,313.5 964,313.5 L976,313.5" fill="none" stroke="#a9a9a9" stroke-width="6.5" filter="url(#f28b)"/>
  <path d="M947,157 L947,200" fill="none" stroke="#a0a0a0" stroke-width="7" filter="url(#f28b)" opacity="0.7"/>
  <rect x="952.5" y="157" width="10.5" height="150" fill="#f6f6f6"/>
  <!-- grab recess -->
  <path d="M937,209 Q937,203.6 942,203.6 L947,203.6 L947,260.6 L942,260.6 Q937,260 937,254 Z" fill="#e6e6e6" stroke="#b6b6b6" stroke-width="1.1"/>
  <path d="M941.4,208 L941.4,256" stroke="#fafafa" stroke-width="2.2"/>
  <path d="M944.6,206 L944.6,258" stroke="#bdbdbd" stroke-width="1.4"/>
  <path d="M920,301 L947,301.6" stroke="#dadada" stroke-width="0.8"/>
  <!-- window aperture: outer white frame -->
  <path d="M964,154.5 L1180,154.5 Q1208,158 1209.7,186 L1209.7,313 L964,313 Z" fill="#ebebeb"/>
  <path d="M964.5,155 L964.5,312" stroke="#b9b9b9" stroke-width="1.2"/>
  <path d="M1180,154.8 Q1206.8,158.4 1208.3,186 L1208.3,313" fill="none" stroke="#949494" stroke-width="3.6"/>
  <path d="M1176,157.5 Q1203,161 1205.5,187 L1205.5,313" fill="none" stroke="#c6c6c6" stroke-width="2"/>
  <!-- inner frame band -->
  <path d="M967,190 Q968,166 992,163.5 L1158,163.5 Q1192,166 1193,198 L1193,290 Q1192,311 1170,312.5 L967,312.5 Z" fill="#f6f6f6" stroke="#bcbcbc" stroke-width="1"/>
  <path d="M971,192 Q972,172 994,170 L1156,170 Q1184,172 1185,200 L1185,288 Q1184,307 1166,309 L971,309 Z" fill="#fbfbfb" stroke="#c9c9c9" stroke-width="0.9"/>
  <!-- hooks -->
  <path d="M1015,155 L1022.6,155 L1021,161 L1016.6,161 Z" fill="#4a4a4a"/>
  <rect x="1016.6" y="159.5" width="4.6" height="2.6" fill="#efefef" stroke="#555" stroke-width="0.6"/>
  <path d="M1120,155 L1127.6,155 L1126,161 L1121.6,161 Z" fill="#4a4a4a"/>
  <rect x="1121.6" y="159.5" width="4.6" height="2.6" fill="#efefef" stroke="#555" stroke-width="0.6"/>
  <!-- left roller bracket -->
  <path d="M965,188 L975,188.5 L975,200 L966,201 Z" fill="#c2c2c2" stroke="#a8a8a8" stroke-width="0.7"/>
  <!-- lower-left roller bracket -->
  <path d="M963.5,268 L974,268.5 L974,288 L969,282 Q963.5,280 963.5,274 Z" fill="#cfcfcf" stroke="#9c9c9c" stroke-width="0.8"/>
  <path d="M957,170 L957,262 Q957,282 972,292" fill="none" stroke="#bdbdbd" stroke-width="1.6"/>
  <path d="M952,298 L969,288" stroke="#cfcfcf" stroke-width="0.8"/>
  <!-- right latch -->
  <rect x="1168" y="236.5" width="33.5" height="14" rx="2" fill="#d6d6d6" stroke="#b7b7b7" stroke-width="0.8"/>
  <rect x="1170.5" y="238.5" width="4" height="10" fill="#bdbdbd"/>
  <path d="M1196,226 L1205,222 L1205,262 L1196,256 Z" fill="#efefef" stroke="#c4c4c4" stroke-width="0.8"/>
  <!-- blind -->
  <rect x="974.7" y="192.6" width="192.8" height="119" fill="url(#g28blind)"/>
  <rect x="973.7" y="190.8" width="194.2" height="2.4" fill="#2f2f2f"/>
  <path d="M964,313.5 L1200,313.5" stroke="#8c8c8c" stroke-width="1.4"/>
  <ellipse cx="1018.5" cy="195" rx="4.6" ry="1.9" fill="#f6f6f6"/>
  <ellipse cx="1123.6" cy="195" rx="4.6" ry="1.9" fill="#f6f6f6"/>
  <path d="M1064.5,189.2 Q1071,187.6 1078,189.2 L1077,193 L1065.5,193 Z" fill="#262626"/>
  <!-- arrows -->
  <path d="M1018.7,165.2 L1031,178.4 L1025.2,178.4 L1025.2,190.4 L1012.1,190.4 L1012.1,178.4 L1006.4,178.4 Z" fill="#fff"/>
  <path d="M1018.7,167.4 L1028,177.3 L1023.8,177.3 L1023.8,189.6 L1013.6,189.6 L1013.6,177.3 L1009.4,177.3 Z" fill="#585858" stroke="#3a3a3a" stroke-width="0.8"/>
  <path d="M1123.8,165.2 L1136.1,178.4 L1130.3,178.4 L1130.3,190.4 L1117.2,190.4 L1117.2,178.4 L1111.5,178.4 Z" fill="#fff"/>
  <path d="M1123.8,167.4 L1133.1,177.3 L1128.9,177.3 L1128.9,189.6 L1118.7,189.6 L1118.7,177.3 L1114.5,177.3 Z" fill="#585858" stroke="#3a3a3a" stroke-width="0.8"/>
  <!-- right pillar -->
  <path d="M1192,149.5 L1265,149.5 L1265,374 L1211,374 L1211,186 Q1209,160 1192,149.5 Z" fill="url(#g28rp)"/>
  <path d="M1192,149.5 Q1214,152 1222,170 L1226,220" fill="none" stroke="#fafafa" stroke-width="3" opacity="0.9"/>
  <!-- coat hook -->
  <path d="M1222,230 Q1224,218 1240,217 L1255,218 Q1262,220 1262,230 L1262,250 L1226,250 Z" fill="#e9e9e9" stroke="#cbcbcb" stroke-width="0.9"/>
  <path d="M1228,232 Q1233,226 1238,233 Q1242,242 1256,240" fill="none" stroke="#bdbdbd" stroke-width="2"/>
  <!-- seat belt / seat side strips -->
  <path d="M1265,279 L1253,284 L1212,374 L1265,374 Z" fill="#e3e3e3"/>
  <path d="M1265,279.7 L1256,283 L1213.6,374 L1221,374 Z" fill="#a2a2a2"/>
  <path d="M1226,320 L1210,374 L1196,374 L1216,318 Z" fill="#f7f7f7"/>
  <!-- headrest -->
  <path d="M1213,262 Q1226,250 1240,248 L1265,252 L1265,283 L1256,287 Q1250,300 1247,318 L1228,325 Q1216,326 1213.5,318 Q1208,300 1209,284 Z" fill="url(#g28hr)"/>
  <path d="M1213,262 Q1226,250 1240,248 L1265,252" fill="none" stroke="#fdfdfd" stroke-width="1.6"/>
  <path d="M1213.5,318 Q1216,326 1228,325 L1247,318" fill="none" stroke="#d2d2d2" stroke-width="1.2"/>
  <!-- door lower panel -->
  <path d="M925,314.5 L1200,314.5 L1168,374 L913,374 Z" fill="#ececec"/>
  <path d="M1011,330 L1178,330 L1166,352 L1000,352 Z" fill="#e2e2e2" opacity="0.5" filter="url(#f28b)"/>
  <path d="M915,349.8 L1181,348" stroke="#bdbdbd" stroke-width="0.9"/>
  <path d="M914,351 L1180,349.4 L1167,374 L912,374 Z" fill="#efefef"/>
  <path d="M1163,336 L1180,336" stroke="#cbcbcb" stroke-width="0.7"/>
  <path d="M1166,335.6 Q1162,337 1160,348" fill="none" stroke="#cbcbcb" stroke-width="0.7"/>
  <!-- armrest curve bottom -->
  <path d="M1080,352 Q1115,356 1130,374 L1080,374 Z" fill="#f7f7f7"/>
  <path d="M1080,352 Q1115,356 1130,374" fill="none" stroke="#dedede" stroke-width="1.2"/>
  <ellipse cx="979" cy="374.4" rx="26" ry="2.6" fill="#8a8a8a" filter="url(#f28b)" opacity="0.8"/>
  <!-- diagonal sill lines right -->
  <path d="M1199.4,312.7 Q1180,340 1168,374" fill="none" stroke="#a4a4a4" stroke-width="2"/>
  <path d="M1206,316 Q1188,344 1178,374" fill="none" stroke="#c0c0c0" stroke-width="3"/>
  <path d="M1211,318 Q1196,346 1187,374" fill="none" stroke="#f9f9f9" stroke-width="4"/>
  <path d="M1203,313 L1214,313" stroke="#cfcfcf" stroke-width="1"/>
</g>
</svg>

<!-- open lock -->
<svg class="fig" style="left:108px;top:384px" width="28" height="27" viewBox="108 384 28 27">
  <rect x="110.6" y="386.1" width="22.8" height="22.8" fill="#fdfdfd" stroke="#ececec" stroke-width="0.8"/>
  <path d="M115.9,397.2 L126.8,397.2 L126.8,403 Q126.8,407.9 121.3,407.9 Q115.9,407.9 115.9,403 Z" fill="none" stroke="#2e2e2e" stroke-width="1.35"/>
  <path d="M117.6,392.6 Q118.8,387.9 122.6,387.9 Q127,388 127,392.4 L126.6,397" fill="none" stroke="#2e2e2e" stroke-width="1.35" stroke-linecap="round"/>
  <circle cx="121.2" cy="400.5" r="1.55" fill="#2e2e2e"/>
  <path d="M120.5,401 L121.9,401 L122.3,404.7 L120.1,404.7 Z" fill="#2e2e2e"/>
</svg>
<!-- closed lock -->
<svg class="fig" style="left:108px;top:451px" width="28" height="28" viewBox="108 451 28 28">
  <rect x="110.6" y="452.8" width="22.8" height="24.4" fill="#fdfdfd" stroke="#ececec" stroke-width="0.8"/>
  <path d="M116.1,462.6 L128,462.6 L128,469.4 Q128,474.5 122,474.5 Q116.1,474.5 116.1,469.4 Z" fill="none" stroke="#2e2e2e" stroke-width="1.35"/>
  <path d="M117.8,462.4 L117.8,459.4 Q117.9,454.7 122.1,454.7 Q126.3,454.7 126.4,459.4 L126.4,462.4" fill="none" stroke="#2e2e2e" stroke-width="1.35"/>
  <circle cx="122" cy="466.7" r="1.65" fill="#2e2e2e"/>
  <path d="M121.3,467.2 L122.7,467.2 L123.2,471.3 L120.8,471.3 Z" fill="#2e2e2e"/>
</svg>
<!-- heated rear window icons -->
<svg class="fig" style="left:1113px;top:560px" width="27" height="21" viewBox="1113 560 27 21">
  <rect x="1115.8" y="562.9" width="20.6" height="11.6" fill="none" stroke="#2a2a2a" stroke-width="1.35"/>
  <g fill="none" stroke="#2a2a2a" stroke-width="1">
    <path d="M1122,567 Q1121.6,571 1123,573.6 Q1123.6,576.6 1121.4,578.6"/>
    <path d="M1126,567 Q1125.6,571 1127,573.6 Q1127.6,576.6 1125.4,578.6"/>
    <path d="M1130.1,567 Q1129.7,571 1131.1,573.6 Q1131.7,576.6 1129.5,578.6"/>
  </g>
  <g fill="#2a2a2a">
    <path d="M1122,565.2 L1123.3,568.4 L1120.7,568.4 Z"/>
    <path d="M1126,565.2 L1127.3,568.4 L1124.7,568.4 Z"/>
    <path d="M1130.1,565.2 L1131.4,568.4 L1128.8,568.4 Z"/>
  </g>
</svg>
<svg class="fig" style="left:896px;top:685px" width="27" height="21" viewBox="1113 560 27 21">
  <rect x="1115.8" y="562.9" width="20.6" height="11.6" fill="none" stroke="#2a2a2a" stroke-width="1.35"/>
  <g fill="none" stroke="#2a2a2a" stroke-width="1">
    <path d="M1122,567 Q1121.6,571 1123,573.6 Q1123.6,576.6 1121.4,578.6"/>
    <path d="M1126,567 Q1125.6,571 1127,573.6 Q1127.6,576.6 1125.4,578.6"/>
    <path d="M1130.1,567 Q1129.7,571 1131.1,573.6 Q1131.7,576.6 1129.5,578.6"/>
  </g>
  <g fill="#2a2a2a">
    <path d="M1122,565.2 L1123.3,568.4 L1120.7,568.4 Z"/>
    <path d="M1126,565.2 L1127.3,568.4 L1124.7,568.4 Z"/>
    <path d="M1130.1,565.2 L1131.4,568.4 L1128.8,568.4 Z"/>
  </g>
</svg>

<div class="t c" style="left:75.0px;top:340.9px;transform:scaleX(0.926);">26</div>
<div class="t b" style="left:75.5px;top:391.4px;">1.</div>
<div class="t b" style="left:138.4px;top:391.4px;letter-spacing:-0.038px;">drücken und halten, um Fenster zu</div>
<div class="t b" style="left:108.7px;top:417.1px;letter-spacing:0.061px;">öffnen.</div>
<div class="t b" style="left:75.0px;top:458.7px;">2.</div>
<div class="t b" style="left:138.4px;top:458.7px;letter-spacing:-0.038px;">drücken und halten, um Fenster zu</div>
<div class="t b" style="left:108.7px;top:483.8px;letter-spacing:-0.262px;">schließen.</div>
<div class="t b" style="left:75.0px;top:521.5px;letter-spacing:-0.057px;">Taste loslassen, um die Bewegung der</div>
<div class="t b" style="left:75.6px;top:545.8px;letter-spacing:-0.076px;">Fenster zu stoppen.</div>
<div class="t h" style="left:75.5px;top:580.5px;font-size:20.5px;transform:scaleX(1.456);">Überlastung</div>
<div class="t b" style="left:74.8px;top:609.6px;letter-spacing:-0.190px;">Wenn die Fensterheber in einer kurzen</div>
<div class="t b" style="left:74.8px;top:634.9px;letter-spacing:-0.026px;">Zeitspanne wiederholt betätigt werden,</div>
<div class="t b" style="left:74.8px;top:659.6px;letter-spacing:-0.075px;">werden sie für eine bestimmte Zeit</div>
<div class="t b" style="left:75.1px;top:684.2px;letter-spacing:-0.110px;">deaktiviert.</div>
<div class="t h" style="left:75.7px;top:718.7px;font-size:20.5px;transform:scaleX(1.476);">Die Elektrische Fenster-</div>
<div class="t h" style="left:75.7px;top:744.2px;font-size:20.5px;transform:scaleX(1.469);">betätigung Initialisieren</div>
<div class="t b" style="left:74.8px;top:773.7px;letter-spacing:-0.055px;">Wenn die Fenster nicht automatisch</div>
<div class="t b" style="left:75.1px;top:798.5px;letter-spacing:-0.075px;">geschlossen werden können (z. B. nach</div>
<div class="t b" style="left:75.1px;top:823.4px;letter-spacing:-0.196px;">dem Trennen der Fahrzeugbatterie), wird</div>
<div class="t b" style="left:75.3px;top:848.3px;letter-spacing:-0.213px;">im Fahrerinfodisplay eine Warnmeldung</div>
<div class="t b" style="left:75.1px;top:872.9px;letter-spacing:-0.127px;">angezeigt.</div>
<div class="t b" style="left:486.4px;top:46.9px;letter-spacing:-0.203px;">Fensterelektronik wie folgt aktivieren:</div>
<div class="t b" style="left:487.4px;top:84.2px;">1.</div>
<div class="t b" style="left:519.8px;top:84.2px;letter-spacing:-0.341px;">Türen schließen.</div>
<div class="t b" style="left:486.2px;top:118.8px;">2.</div>
<div class="t b" style="left:519.8px;top:118.8px;letter-spacing:-0.007px;">Zündung einschalten.</div>
<div class="t b" style="left:486.2px;top:153.9px;">3.</div>
<div class="t b" style="left:520.4px;top:153.9px;letter-spacing:-0.145px;">Den Schalter ziehen, bis das Fenster</div>
<div class="t b" style="left:520.1px;top:178.7px;letter-spacing:-0.049px;">geschlossen ist, und weitere zwei</div>
<div class="t b" style="left:520.1px;top:203.8px;letter-spacing:-0.104px;">Sekunden halten.</div>
<div class="t b" style="left:486.0px;top:238.6px;">4.</div>
<div class="t b" style="left:520.4px;top:238.6px;letter-spacing:-0.058px;">Den Schalter drücken, bis das Fenster</div>
<div class="t b" style="left:519.8px;top:263.2px;letter-spacing:-0.043px;">vollständig geöffnet ist, und weitere</div>
<div class="t b" style="left:519.8px;top:287.9px;letter-spacing:-0.092px;">zwei Sekunden halten.</div>
<div class="t b" style="left:486.2px;top:323.7px;">5.</div>
<div class="t b" style="left:519.8px;top:323.7px;letter-spacing:-0.108px;">Vorgang für jedes Fenster</div>
<div class="t b" style="left:519.8px;top:348.0px;letter-spacing:-0.082px;">wiederholen.</div>
<div class="t h" style="left:486.9px;top:384.5px;font-size:20.0px;transform:scaleX(1.390);">HINTERE FENSTER</div>
<div class="t c" style="left:485.9px;top:714.5px;transform:scaleX(0.921);">27</div>
<div class="t b" style="left:486.1px;top:758.9px;letter-spacing:-0.187px;">Um die hinteren Fenster teilweise zu</div>
<div class="t b" style="left:485.8px;top:783.9px;letter-spacing:-0.083px;">öffnen, Sie den Hebel umdrehen und</div>
<div class="t b" style="left:486.1px;top:808.6px;letter-spacing:-0.006px;">ihn nach hinten ganz durchdrücken, um</div>
<div class="t b" style="left:485.8px;top:833.1px;letter-spacing:-0.125px;">die Fenster in der offenen Position zu</div>
<div class="t b" style="left:485.8px;top:857.8px;letter-spacing:-0.279px;">verriegeln.</div>
<div class="t h" style="left:897.5px;top:46.4px;font-size:20.5px;transform:scaleX(1.428);">Sonnenrollo</div>
<div class="t c" style="left:896.7px;top:376.2px;transform:scaleX(0.926);">28</div>
<div class="t b" style="left:897.3px;top:420.7px;letter-spacing:-0.145px;">Um die Sonneneinstrahlung auf die Sitze</div>
<div class="t b" style="left:896.8px;top:445.7px;letter-spacing:-0.179px;">der zweiten Sitzreihe zu reduzieren, das</div>
<div class="t b" style="left:897.1px;top:470.2px;letter-spacing:-0.132px;">Sonnenrollo am Griff hochziehen und</div>
<div class="t b" style="left:896.8px;top:494.9px;letter-spacing:-0.174px;">oben am Türrahmen einhängen.</div>
<div class="t h" style="left:897.5px;top:529.4px;font-size:20.0px;transform:scaleX(1.415);">HECKSCHEIBENHEIZUNG</div>
<div class="t b" style="left:896.8px;top:561.5px;letter-spacing:0.043px;">Wird durch Drücken auf</div>
<div class="t b" style="left:1141.8px;top:561.5px;letter-spacing:0.096px;">zusammen</div>
<div class="t b" style="left:897.3px;top:585.9px;letter-spacing:-0.141px;">mit der Außenspiegelheizung aktiviert.</div>
<div class="t b" style="left:896.6px;top:610.9px;letter-spacing:-0.044px;">Abhängig von den Außentemperaturen</div>
<div class="t b" style="left:896.8px;top:635.5px;letter-spacing:-0.057px;">wird die Heizung nach einer bestimmten</div>
<div class="t b" style="left:896.8px;top:660.3px;letter-spacing:-0.039px;">Zeit automatisch ausgeschaltet.</div>
<div class="t b" style="left:926.0px;top:685.8px;letter-spacing:-0.036px;">befindet sich je nach</div>
<div class="t b" style="left:897.3px;top:710.5px;letter-spacing:-0.199px;">Klimatisierungssystem an einer anderen</div>
<div class="t b" style="left:897.3px;top:735.7px;letter-spacing:-0.049px;">Position.</div>
<div class="t h" style="left:1334.2px;top:977.2px;font-size:28.0px;transform:scaleX(1.117);">23</div>
<svg class="fig" style="left:1280px;top:40px" width="165" height="890" viewBox="1280 40 165 890">
<rect x="1286.2" y="47.4" width="200" height="72.2" rx="11" ry="11" fill="#fff" stroke="#141414" stroke-width="2.4"/>
<rect x="1285" y="126.3" width="200" height="74.6" rx="12" ry="12" fill="#1c1a1b"/>
<rect x="1286.2" y="207.9" width="200" height="72.2" rx="11" ry="11" fill="#fff" stroke="#141414" stroke-width="2.4"/>
<rect x="1286.2" y="288.0" width="200" height="72.2" rx="11" ry="11" fill="#fff" stroke="#141414" stroke-width="2.4"/>
<rect x="1286.2" y="368.2" width="200" height="72.2" rx="11" ry="11" fill="#fff" stroke="#141414" stroke-width="2.4"/>
<rect x="1286.2" y="448.4" width="200" height="72.2" rx="11" ry="11" fill="#fff" stroke="#141414" stroke-width="2.4"/>
<rect x="1286.2" y="528.4" width="200" height="72.2" rx="11" ry="11" fill="#fff" stroke="#141414" stroke-width="2.4"/>
<rect x="1286.2" y="608.9" width="200" height="72.2" rx="11" ry="11" fill="#fff" stroke="#141414" stroke-width="2.4"/>
<rect x="1286.2" y="688.7" width="200" height="72.2" rx="11" ry="11" fill="#fff" stroke="#141414" stroke-width="2.4"/>
<rect x="1286.2" y="769.2" width="200" height="72.2" rx="11" ry="11" fill="#fff" stroke="#141414" stroke-width="2.4"/>
<rect x="1286.2" y="849.0" width="200" height="72.2" rx="11" ry="11" fill="#fff" stroke="#141414" stroke-width="2.4"/>
<path d="M1315.4,64.6 Q1327.2,63.6 1339.4,64.6 Q1341.4,65.0 1342.3,66.9 L1345.6,74.5 Q1347.1,76.0 1347.1,78.3 L1347.1,98.5 L1341.1,98.5 L1341.1,94.6 L1312.8,94.6 L1312.8,98.5 L1306.9,98.5 L1306.9,78.3 Q1306.9,76.0 1308.5,74.5 L1312.2,66.9 Q1313.2,65.0 1315.4,64.6 Z" fill="#d7d7d7"/>
<path d="M1304.7,72.8 Q1304.7,71.5 1306.5,71.5 L1309.8,71.8 L1308.9,74.5 L1305.9,74.5 Q1304.7,74.1 1304.7,72.8 Z" fill="#d7d7d7"/>
<path d="M1316.4,67.1 L1338.3,67.1 L1342.5,75.1 L1312.0,75.1 Z" fill="#fff"/>
<ellipse cx="1314.6" cy="82.0" rx="3.1" ry="2.6" fill="#fff"/>
<ellipse cx="1340.2" cy="82.0" rx="3.1" ry="2.6" fill="#fff"/>
<circle cx="1345.1" cy="74.2" r="11" fill="#fff" fill-opacity="0.75" stroke="#d7d7d7" stroke-width="1.6"/>
<path d="M1341,64 L1346.5,83 L1350,82 Z" fill="#d7d7d7"/><ellipse cx="1340" cy="81" rx="3.4" ry="2.8" fill="#fff" stroke="#d7d7d7" stroke-width="1"/>
<path d="M1352.7,84.3 L1365.2,99.3" stroke="#d7d7d7" stroke-width="4" stroke-linecap="round"/>
<path d="M1315.0,145.6 Q1327.0,144.6 1339.3,145.6 Q1341.3,146.0 1342.2,148.0 L1345.6,156.0 Q1347.1,157.5 1347.1,160.0 L1347.1,181.1 L1341.0,181.1 L1341.0,177.0 L1312.4,177.0 L1312.4,181.1 L1306.4,181.1 L1306.4,160.0 Q1306.4,157.5 1308.0,156.0 L1311.8,148.0 Q1312.8,146.0 1315.0,145.6 Z" fill="#fff"/>
<path d="M1304.2,154.2 Q1304.2,152.8 1306.0,152.8 L1309.4,153.2 L1308.4,156.0 L1305.4,156.0 Q1304.2,155.6 1304.2,154.2 Z" fill="#fff"/>
<path d="M1316.0,148.2 L1338.2,148.2 L1342.4,156.6 L1311.6,156.6 Z" fill="#1c1a1b"/>
<ellipse cx="1314.2" cy="163.8" rx="3.1" ry="2.7" fill="#1c1a1b"/>
<ellipse cx="1340.1" cy="163.8" rx="3.1" ry="2.7" fill="#1c1a1b"/>
<circle cx="1355.7" cy="153.9" r="11" fill="#fff"/>
<text x="1355.3" y="161.4" font-family="Liberation Serif,serif" font-style="italic" font-weight="bold" font-size="21" text-anchor="middle" fill="#1c1a1b">i</text>
<circle cx="1324.6" cy="235.1" r="10.4" fill="#d7d7d7"/>
<rect x="1320.8" y="220.2" width="7.8" height="6" fill="none" stroke="#d7d7d7" stroke-width="1.6"/>
<path d="M1304.2,235 L1310.6,235" stroke="#d7d7d7" stroke-width="1.5"/>
<path d="M1338.5,235 L1343.8,235" stroke="#d7d7d7" stroke-width="1.5"/>
<path d="M1310.6,221.4 L1314.6,225.4" stroke="#d7d7d7" stroke-width="1.5"/>
<path d="M1334.3,225.4 L1338.5,221.4" stroke="#d7d7d7" stroke-width="1.5"/>
<path d="M1314.6,244.8 L1310.6,248.8" stroke="#d7d7d7" stroke-width="1.5"/>
<path d="M1324.6,249.3 L1324.6,254.3" stroke="#d7d7d7" stroke-width="1.5"/>
<rect x="1329.3" y="239.9" width="35.5" height="23.2" fill="#fff" stroke="#d7d7d7" stroke-width="2.4"/>
<path d="M1332.6,242.6 L1347.1,257.2 L1362.7,242.6" fill="none" stroke="#d7d7d7" stroke-width="2.8"/>
<path d="M1336.8,351.3 L1323.4,334.6 A16.7,16.7 0 1 1 1350.2,334.6 Z" fill="#d7d7d7"/>
<circle cx="1336.8" cy="324.4" r="10.9" fill="#fff"/>
<circle cx="1335.6" cy="325.2" r="5.3" fill="#d7d7d7"/>
<path d="M1341.2,326 L1341.2,299.5 L1366,292.4 L1366,317 L1363.6,317 L1363.6,300.4 L1343.6,306 L1343.6,326 Z" fill="#d7d7d7"/>
<ellipse cx="1360.4" cy="317.8" rx="5.2" ry="4.6" fill="#d7d7d7"/>
<path d="M1306.7,315.2 Q1310,299 1327.6,294.4" fill="none" stroke="#d7d7d7" stroke-width="3.8"/>
<path d="M1314,315.2 Q1316,305 1327.6,301.9" fill="none" stroke="#d7d7d7" stroke-width="3.6"/>
<path d="M1311,381.7 L1314.6,381.7 L1314.8,401.6 L1317.6,401.8 Q1319.4,406 1320.4,419.3 Q1320.4,422.1 1317.6,422.1 L1307.4,422.1 Q1304.7,422.1 1304.7,419.3 Q1305.6,406 1307.8,401.8 L1310.8,401.6 Z" fill="#d7d7d7"/>
<circle cx="1346" cy="402.3" r="18" fill="none" stroke="#d7d7d7" stroke-width="4"/>
<path d="M1329,402 Q1336,397.4 1346,397.4 Q1356,397.4 1363,402 L1362,408 Q1357,418 1351,420 L1341,420 Q1335,418 1330,408 Z" fill="#d7d7d7"/>
<ellipse cx="1336.6" cy="410.6" rx="4.6" ry="3" fill="#fff" transform="rotate(35 1336.6 410.6)"/>
<ellipse cx="1355.4" cy="410.6" rx="4.6" ry="3" fill="#fff" transform="rotate(-35 1355.4 410.6)"/>
<path d="M1322.5,458.9 L1325.9,458.9 L1323.2,462.2 L1319.8,462.2 Z" fill="#d7d7d7"/>
<path d="M1348.5,458.9 L1345.1,458.9 L1347.8,462.2 L1351.2,462.2 Z" fill="#d7d7d7"/>
<path d="M1316.3,466.9 L1320.9,466.9 L1317.2,473.6 L1312.6,473.6 Z" fill="#d7d7d7"/>
<path d="M1354.7,466.9 L1350.1,466.9 L1353.8,473.6 L1358.4,473.6 Z" fill="#d7d7d7"/>
<path d="M1309.5,476.9 L1315.0,476.9 L1310.5,486.9 L1305.0,486.9 Z" fill="#d7d7d7"/>
<path d="M1361.5,476.9 L1356.0,476.9 L1360.5,486.9 L1366.0,486.9 Z" fill="#d7d7d7"/>
<path d="M1320.6,488 L1326.4,479.1 L1344.6,479.1 L1350.4,488" fill="#fff" stroke="#d7d7d7" stroke-width="2.4" stroke-linejoin="round"/>
<path d="M1314.2,487.6 L1356.3,487.6 L1356.3,490 L1353.2,490.4 L1353.2,506.8 L1345,506.8 L1345,502.4 L1325.9,502.4 L1325.9,506.8 L1317.6,506.8 L1317.6,490.4 L1314.2,490 Z" fill="#d7d7d7"/>
<g transform="rotate(-7 1324 561)"><path d="M1315.9,546.9 Q1325.1,546.1 1334.6,546.9 Q1336.1,547.3 1336.8,548.9 L1339.4,555.5 Q1340.6,556.7 1340.6,558.8 L1340.6,576.1 L1335.9,576.1 L1335.9,572.7 L1313.9,572.7 L1313.9,576.1 L1309.3,576.1 L1309.3,558.8 Q1309.3,556.7 1310.5,555.5 L1313.4,548.9 Q1314.2,547.3 1315.9,546.9 Z" fill="#d7d7d7"/>
<path d="M1307.6,554.0 Q1307.6,552.8 1309.0,552.8 L1311.6,553.2 L1310.8,555.5 L1308.5,555.5 Q1307.6,555.1 1307.6,554.0 Z" fill="#d7d7d7"/>
<path d="M1316.7,549.1 L1333.8,549.1 L1337.0,556.0 L1313.3,556.0 Z" fill="#fff"/>
<ellipse cx="1315.3" cy="561.9" rx="2.4" ry="2.2" fill="#fff"/>
<ellipse cx="1335.2" cy="561.9" rx="2.4" ry="2.2" fill="#fff"/></g>
<path d="M1344.8,547.4 L1362.8,579.2 L1327,579.2 Z" fill="#fff" fill-opacity="0.55" stroke="#d7d7d7" stroke-width="2.8" stroke-linejoin="miter"/>
<path d="M1331,577.6 L1342,556 L1346,560 L1345,577.6 Z" fill="#d7d7d7"/>
<path d="M1316.0,625.1 Q1328.3,624.1 1340.8,625.1 Q1342.9,625.5 1343.8,627.5 L1347.3,635.5 Q1348.8,637.0 1348.8,639.5 L1348.8,660.6 L1342.6,660.6 L1342.6,656.5 L1313.4,656.5 L1313.4,660.6 L1307.2,660.6 L1307.2,639.5 Q1307.2,637.0 1308.9,635.5 L1312.8,627.5 Q1313.8,625.5 1316.0,625.1 Z" fill="#d7d7d7"/>
<path d="M1305.0,633.7 Q1305.0,632.3 1306.8,632.3 L1310.3,632.7 L1309.3,635.5 L1306.2,635.5 Q1305.0,635.1 1305.0,633.7 Z" fill="#d7d7d7"/>
<path d="M1351.0,633.7 Q1351.0,632.3 1349.2,632.3 L1345.7,632.7 L1346.8,635.5 L1349.8,635.5 Q1351.0,635.1 1351.0,633.7 Z" fill="#d7d7d7"/>
<path d="M1317.0,627.7 L1339.7,627.7 L1344.0,636.1 L1312.6,636.1 Z" fill="#fff"/>
<ellipse cx="1315.2" cy="643.3" rx="3.2" ry="2.7" fill="#fff"/>
<ellipse cx="1341.7" cy="643.3" rx="3.2" ry="2.7" fill="#fff"/>
<path d="M1358.3,631 L1358.3,654.6 Q1354.6,656.4 1354.6,660 Q1354.8,662.4 1357,663.2 L1357,658.6 L1360.2,657 L1363.4,658.6 L1363.4,663.2 Q1365.6,662.4 1365.8,660 Q1365.8,656.4 1362.1,654.6 L1362.1,631 Q1365.8,629.2 1365.8,625.6 Q1365.6,623.2 1363.4,622.4 L1363.4,627 L1360.2,628.6 L1357,627 L1357,622.4 Q1354.8,623.2 1354.6,625.6 Q1354.6,629.2 1358.3,631 Z" fill="#d7d7d7"/>
<path d="M1309,703.6 L1305.6,703.6 L1305.6,739 L1330,739" fill="none" stroke="#d7d7d7" stroke-width="1.5"/>
<path d="M1331.6,703.6 L1335.4,703.6 L1335.4,723" fill="none" stroke="#d7d7d7" stroke-width="1.5"/>
<rect x="1310" y="702.5" width="20" height="5.1" fill="#d7d7d7"/>
<rect x="1310.6" y="710.7" width="3" height="3" fill="#d7d7d7"/><rect x="1315" y="711.4" width="15" height="1.6" fill="#d7d7d7"/>
<rect x="1310.6" y="716.9" width="3" height="3" fill="#d7d7d7"/><rect x="1315" y="717.6" width="15" height="1.6" fill="#d7d7d7"/>
<rect x="1310.6" y="722.8" width="3" height="3" fill="#d7d7d7"/><rect x="1315" y="723.5" width="15" height="1.6" fill="#d7d7d7"/>
<rect x="1310.6" y="728.6" width="3" height="3" fill="#d7d7d7"/><rect x="1315" y="729.3" width="15" height="1.6" fill="#d7d7d7"/>
<circle cx="1353.2" cy="715.1" r="8.9" fill="none" stroke="#d7d7d7" stroke-width="2.2"/>
<path d="M1362.9,715.1 L1365.7,715.1" stroke="#d7d7d7" stroke-width="2.6"/>
<path d="M1361.6,720.0 L1364.0,721.4" stroke="#d7d7d7" stroke-width="2.6"/>
<path d="M1358.0,723.5 L1359.5,725.9" stroke="#d7d7d7" stroke-width="2.6"/>
<path d="M1353.2,724.8 L1353.2,727.6" stroke="#d7d7d7" stroke-width="2.6"/>
<path d="M1348.4,723.5 L1347.0,725.9" stroke="#d7d7d7" stroke-width="2.6"/>
<path d="M1344.8,720.0 L1342.4,721.4" stroke="#d7d7d7" stroke-width="2.6"/>
<path d="M1343.5,715.1 L1340.7,715.1" stroke="#d7d7d7" stroke-width="2.6"/>
<path d="M1344.8,710.2 L1342.4,708.9" stroke="#d7d7d7" stroke-width="2.6"/>
<path d="M1348.4,706.7 L1347.0,704.3" stroke="#d7d7d7" stroke-width="2.6"/>
<path d="M1353.2,705.4 L1353.2,702.6" stroke="#d7d7d7" stroke-width="2.6"/>
<path d="M1358.0,706.7 L1359.5,704.3" stroke="#d7d7d7" stroke-width="2.6"/>
<path d="M1361.6,710.2 L1364.0,708.9" stroke="#d7d7d7" stroke-width="2.6"/>
<circle cx="1340.1" cy="734.6" r="5.2" fill="none" stroke="#d7d7d7" stroke-width="2.9"/>
<path d="M1346.4,734.6 L1348.8,734.6" stroke="#d7d7d7" stroke-width="2.1"/>
<path d="M1345.2,738.3 L1347.1,739.7" stroke="#d7d7d7" stroke-width="2.1"/>
<path d="M1342.0,740.6 L1342.8,742.9" stroke="#d7d7d7" stroke-width="2.1"/>
<path d="M1338.2,740.6 L1337.4,742.9" stroke="#d7d7d7" stroke-width="2.1"/>
<path d="M1335.0,738.3 L1333.1,739.7" stroke="#d7d7d7" stroke-width="2.1"/>
<path d="M1333.8,734.6 L1331.4,734.6" stroke="#d7d7d7" stroke-width="2.1"/>
<path d="M1335.0,730.9 L1333.1,729.5" stroke="#d7d7d7" stroke-width="2.1"/>
<path d="M1338.2,728.6 L1337.4,726.3" stroke="#d7d7d7" stroke-width="2.1"/>
<path d="M1342.0,728.6 L1342.8,726.3" stroke="#d7d7d7" stroke-width="2.1"/>
<path d="M1345.2,730.9 L1347.1,729.5" stroke="#d7d7d7" stroke-width="2.1"/>
<circle cx="1332.6" cy="788.9" r="11.6" fill="#fff" stroke="#d7d7d7" stroke-width="1.9"/>
<path d="M1309.8,824 Q1310,806 1326,805.4 L1344,805.4 Q1356,806 1356.2,824 Q1356,827.6 1352,827.6 L1314,827.6 Q1309.8,827.6 1309.8,824 Z" fill="#fff" stroke="#d7d7d7" stroke-width="1.9"/>
<circle cx="1351.3" cy="812.3" r="12.9" fill="#d7d7d7"/>
<text x="1350.8" y="821" font-family="Liberation Serif,serif" font-style="italic" font-weight="bold" font-size="24" text-anchor="middle" fill="#fff">i</text>
<text x="1306.2" y="871.7" font-family="Liberation Sans,sans-serif" font-size="15" font-weight="normal" fill="#d7d7d7">Z</text>
<text x="1348.8" y="865.9" font-family="Liberation Sans,sans-serif" font-size="11.6" font-weight="normal" fill="#d7d7d7">E</text>
<text x="1349.8" y="883" font-family="Liberation Sans,sans-serif" font-size="15.8" font-weight="normal" fill="#d7d7d7">A</text>
<text x="1304" y="888.8" font-family="Liberation Sans,sans-serif" font-size="11.4" font-weight="normal" fill="#d7d7d7">B</text>
<text x="1357.6" y="897.3" font-family="Liberation Sans,sans-serif" font-size="11.8" font-weight="normal" fill="#d7d7d7">D</text>
<text x="1312.8" y="904.3" font-family="Liberation Sans,sans-serif" font-size="16.4" font-weight="bold" fill="#d7d7d7">I</text>
<text x="1321.6" y="902.6" font-family="Liberation Sans,sans-serif" font-size="11.6" font-weight="normal" fill="#d7d7d7">C</text>
<text x="1333.4" y="909.3" font-family="Liberation Sans,sans-serif" font-size="16.4" font-weight="normal" fill="#d7d7d7">T</text>
<text x="1329.6" y="882.6" font-family="Liberation Sans,sans-serif" font-size="25" fill="#d7d7d7" opacity="0.95">S</text>
<circle cx="1333.1" cy="875.9" r="10.8" fill="none" stroke="#d7d7d7" stroke-width="1.7"/>
<path d="M1341,886.8 L1352.7,901" stroke="#d7d7d7" stroke-width="4.2" stroke-linecap="round"/>
</svg>
</div>
</body></html>
